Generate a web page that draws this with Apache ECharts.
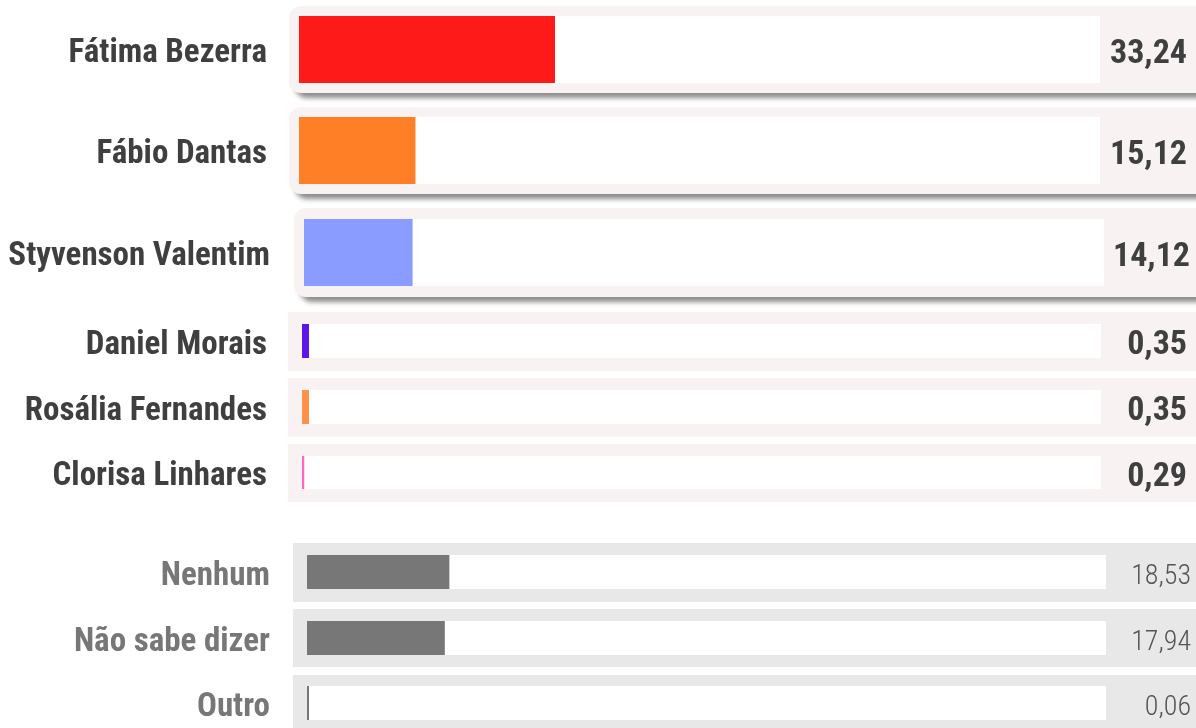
<!DOCTYPE html>
<html>
<head>
<meta charset="utf-8">
<script src="https://cdn.jsdelivr.net/npm/echarts@6/dist/echarts.min.js"></script>
<style>
  html, body { margin: 0; padding: 0; background: #ffffff; }
  #chart { width: 1196px; height: 728px; }
</style>
</head>
<body>
<div id="chart"></div>
<script>
// ---- data ----
const names = ['Fátima Bezerra', 'Fábio Dantas', 'Styvenson Valentim', 'Daniel Morais',
  'Rosália Fernandes', 'Clorisa Linhares', 'Nenhum', 'Não sabe dizer', 'Outro'];
const values = [33.24, 15.12, 14.12, 0.35, 0.35, 0.29, 18.53, 17.94, 0.06];
const barColors = ['#ff1a1a', '#ff7f27', '#8a9cff', '#5c16ea', '#ff914d', '#ff66c4',
  '#777777', '#777777', '#777777'];

// ---- layout (positions / styles) ----
const FONT = "'Roboto Condensed', 'Open Sans Condensed', sans-serif";
const layout = [
  { panel: [289, 6, 930, 87], r: 12, shadow: true, track: [299, 16, 801, 67], kind: 'main', nameRight: 267, valRight: 1187, minLen: 0 },
  { panel: [289, 107, 930, 87], r: 12, shadow: true, track: [299, 117, 801, 67], kind: 'main', nameRight: 267, valRight: 1187, minLen: 0 },
  { panel: [294, 208, 930, 89], r: 12, shadow: true, track: [304, 219, 800, 67], kind: 'main', nameRight: 270, valRight: 1190, minLen: 0 },
  { panel: [288, 312, 930, 59], r: 0, shadow: false, track: [302, 324, 799, 34], kind: 'main', nameRight: 267, valRight: 1187, minLen: 7 },
  { panel: [288, 378, 930, 59], r: 0, shadow: false, track: [302, 390, 799, 34], kind: 'main', nameRight: 267, valRight: 1187, minLen: 7 },
  { panel: [288, 444, 930, 58], r: 0, shadow: false, track: [302, 456, 799, 33], kind: 'main', nameRight: 267, valRight: 1187, minLen: 2 },
  { panel: [293, 543, 930, 59], r: 0, shadow: false, track: [307, 555, 799, 34], kind: 'other', nameRight: 270, valRight: 1191, minLen: 2 },
  { panel: [293, 609, 930, 58], r: 0, shadow: false, track: [307, 621, 799, 34], kind: 'other', nameRight: 270, valRight: 1191, minLen: 2 },
  { panel: [293, 675, 930, 60], r: 0, shadow: false, track: [307, 686, 799, 34], kind: 'other', nameRight: 270, valRight: 1191, minLen: 2 }
];
const AXIS_MAX = 104;

const grids = [], xAxes = [], yAxes = [], series = [], graphics = [];
layout.forEach((L, i) => {
  const isMain = L.kind === 'main';
  graphics.push({
    type: 'rect', z: -10,
    shape: { x: L.panel[0], y: L.panel[1], width: L.panel[2], height: L.panel[3], r: L.r },
    style: Object.assign({ fill: isMain ? '#f8f2f2' : '#e8e8e8' },
      L.shadow ? { shadowColor: 'rgba(0,0,0,0.45)', shadowBlur: 5, shadowOffsetY: 5, shadowOffsetX: 6 } : {})
  });
  grids.push({
    left: L.track[0], top: L.track[1], width: L.track[2], height: L.track[3],
    show: true, backgroundColor: '#ffffff', borderWidth: 0,
    containLabel: false, outerBoundsMode: 'none'
  });
  xAxes.push({ type: 'value', gridIndex: i, min: 0, max: AXIS_MAX, show: false });
  yAxes.push({
    type: 'category', gridIndex: i, data: [names[i]], position: 'left',
    axisLine: { show: false }, axisTick: { show: false }, splitLine: { show: false },
    axisLabel: {
      margin: L.track[0] - L.nameRight,
      color: isMain ? '#3f3f3f' : '#777777',
      fontFamily: FONT, fontWeight: 'bold', fontSize: 33,
      verticalAlign: 'top', lineHeight: 9
    }
  });
  yAxes.push({
    type: 'category', gridIndex: i, data: [values[i]], position: 'right',
    axisLine: { show: false }, axisTick: { show: false }, splitLine: { show: false },
    axisLabel: {
      margin: L.valRight - (L.track[0] + L.track[2]),
      align: 'right',
      formatter: v => Number(v).toFixed(2).replace('.', ','),
      color: isMain ? '#3f3f3f' : '#555555',
      fontFamily: FONT, fontWeight: isMain ? 'bold' : 300, fontSize: isMain ? 34 : 28,
      verticalAlign: 'top', lineHeight: 9
    }
  });
  series.push({
    type: 'bar', xAxisIndex: i, yAxisIndex: i * 2,
    data: [values[i]], barWidth: '100%', barMinHeight: L.minLen,
    itemStyle: { color: barColors[i] },
    silent: true, animation: false
  });
});

const chart = echarts.init(document.getElementById('chart'), null, { renderer: 'canvas' });
chart.setOption({
  backgroundColor: '#ffffff',
  animation: false,
  graphic: { elements: graphics },
  grid: grids, xAxis: xAxes, yAxis: yAxes, series: series
});
</script>
</body>
</html>
